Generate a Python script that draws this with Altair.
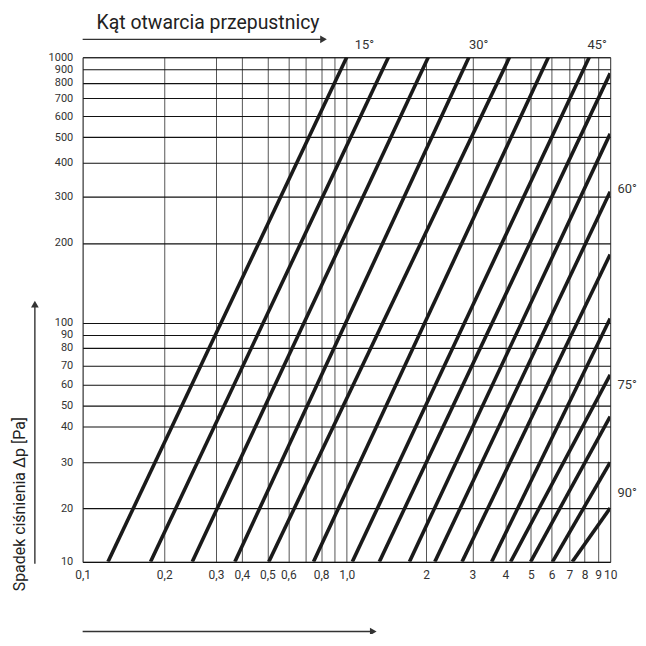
import altair as alt
import pandas as pd

# ---- data ----
line_id = list(range(1, 17))
x_start = [0.124, 0.178, 0.249, 0.370, 0.506, 0.748, 1.05, 1.33,
           1.73, 2.16, 2.74, 3.55, 4.19, 4.99, 6.04, 7.18]
dp_start = [10] * 16
x_end = [1.0, 1.44, 2.04, 2.91, 4.15, 5.83, 8.33, 10,
         10, 10, 10, 10, 10, 10, 10, 10]
dp_end = [1000, 1000, 1000, 1000, 1000, 1000, 1000, 870,
          515, 312, 181, 104, 65, 44.5, 30, 20]

x_grid = [0.1, 0.2, 0.3, 0.4, 0.5, 0.6, 0.7, 0.8, 0.9, 1.0,
          2, 3, 4, 5, 6, 7, 8, 9, 10]
y_grid = [10, 20, 30, 40, 50, 60, 70, 80, 90, 100,
          200, 300, 400, 500, 600, 700, 800, 900, 1000]

rows = []
for i, xs, ys, xe, ye in zip(line_id, x_start, dp_start, x_end, dp_end):
    rows.append({"id": i, "x": xs, "dp": ys})
    rows.append({"id": i, "x": xe, "dp": ye})
df = pd.DataFrame(rows)

W, H = 530, 507
FONT = "Roboto"

# the printed chart's axes are (slightly irregular) log axes
x_scale = alt.Scale(type="log", domain=[0.1, 0.2, 0.3, 0.4, 10],
                    range=[0, 82, 134, 160, W], nice=False)
y_scale = alt.Scale(type="log",
                    domain=[10, 20, 30, 40, 50, 60, 70, 80, 90, 100, 1000],
                    range=[H, 453, 407, 371, 350, 329, 310, 292, 279, 267, 0],
                    nice=False)

x_label_expr = ("datum.value == 0.7 || datum.value == 0.9 ? '' : "
                "(datum.value < 0.95 ? replace(format(datum.value, '.1f'), '.', ',') : "
                "(datum.value < 1.05 ? '1,0' : format(datum.value, 'd')))")

lines = alt.Chart(df).mark_line(
    strokeWidth=3.6, color="#1a1a1a", clip=True, strokeCap="butt"
).encode(
    x=alt.X("x:Q", scale=x_scale,
            axis=alt.Axis(values=x_grid, labelExpr=x_label_expr, title=None,
                          grid=True, gridColor="#555", gridWidth=1, gridOpacity=1,
                          domain=False, ticks=False, labelPadding=8,
                          labelFont=FONT, labelFontSize=12, labelColor="#333",
                          labelOverlap=False, labelFlush=False)),
    y=alt.Y("dp:Q", scale=y_scale,
            axis=alt.Axis(values=y_grid, title=None, format="d",
                          grid=True, gridColor="#111", gridWidth=1.1, gridOpacity=1,
                          domain=False, ticks=False, labelPadding=10,
                          labelFont=FONT, labelFontSize=11, labelColor="#333",
                          labelOverlap=False, labelFlush=False)),
    detail="id:N",
)

one = alt.Data(values=[{}])


def text(s, x, y, size=13, align="center", angle=0, color="#333"):
    return alt.Chart(one).mark_text(
        font=FONT, fontSize=size, align=align, baseline="middle",
        angle=angle, color=color
    ).encode(text=alt.value(s), x=alt.value(x), y=alt.value(y))


def hline(x1, x2, y):
    return alt.Chart(one).mark_rule(color="#333", strokeWidth=1.4).encode(
        x=alt.value(x1), x2=alt.value(x2), y=alt.value(y))


def vline(x, y1, y2):
    return alt.Chart(one).mark_rule(color="#333", strokeWidth=1.4).encode(
        x=alt.value(x), y=alt.value(y1), y2=alt.value(y2))


def head(shape, x, y):
    return alt.Chart(one).mark_point(
        shape=shape, filled=True, size=60, color="#333", opacity=1
    ).encode(x=alt.value(x), y=alt.value(y))


deco = [
    text("Kąt otwarcia przepustnicy", 14, -34, size=19.5, align="left", color="#222"),
    hline(0, 240, -18), head("triangle-right", 242, -18),
    text("15°", 283, -12), text("30°", 398, -12), text("45°", 517, -12),
    text("60°", 547, 132), text("75°", 547, 329), text("90°", 547, 438),
    text("Spadek ciśnienia Δp [Pa]", -63, 449, size=16, angle=270, color="#222"),
    vline(-48, 509, 250), head("triangle-up", -48, 248),
    hline(0, 290, 577), head("triangle-right", 292, 577),
]

chart = alt.layer(lines, *deco).properties(
    width=W, height=H,
    padding={"left": 75, "top": 48, "right": 28, "bottom": 71},
    autosize=alt.AutoSizeParams(type="none"),
).configure_view(stroke="#555", strokeWidth=1)

chart.save("out.html", embed_options={"renderer": "svg", "actions": False})
